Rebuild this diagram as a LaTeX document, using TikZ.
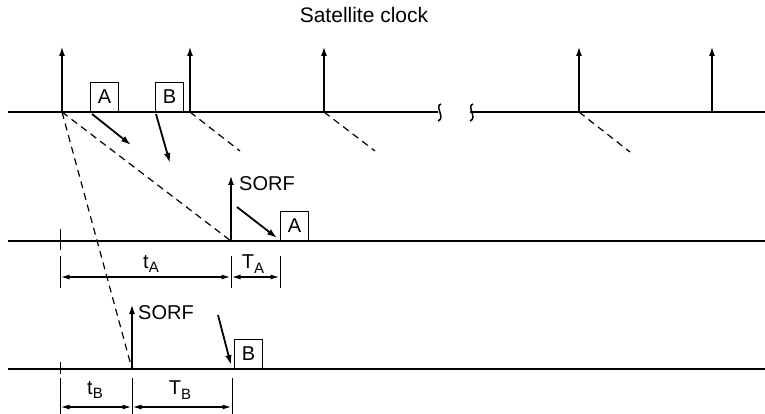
\documentclass[tikz,border=0pt]{standalone}
\usepackage{fontspec}
\setmainfont{Liberation Sans}
\usetikzlibrary{arrows.meta}
\newcommand\mysub[1]{\raisebox{-0.45ex}{\fontsize{15}{15}\selectfont #1}}
\begin{document}
\begin{tikzpicture}[x=1pt,y=-1pt,
  base/.style={line width=2.1pt},
  pulse/.style={line width=2.1pt,-{Latex[length=10pt,width=6pt]}},
  msg/.style={line width=1.8pt,-{Latex[length=10pt,width=6.5pt]}},
  prop/.style={line width=1.2pt,dash pattern=on 7pt off 5pt},
  dim/.style={line width=1.4pt,{Latex[length=9pt,width=5pt]}-{Latex[length=9pt,width=5pt]}},
  ext/.style={line width=1pt},
  lbl/.style={font=\fontsize{20}{22}\selectfont, inner sep=0pt},
  box/.style={draw,line width=1.1pt,minimum width=28pt,minimum height=29pt,inner sep=0pt,font=\fontsize{20}{22}\selectfont,anchor=south west}
]
\useasboundingbox (0,0) rectangle (765,414);
% title
\node[lbl,font=\fontsize{21}{23}\selectfont] (title) at (364,15) {Satellite clock};
% top line (satellite clock)
\coordinate (L1s) at (8,112);
\coordinate (B1) at (438,112);
\coordinate (B2) at (470,112);
\coordinate (L1e) at (765,112);
\draw[base] (L1s) -- (B1);
\draw[base] (B2) -- (L1e);
\draw[line width=1.5pt] (441,104) .. controls (434,106) and (446,118) .. (438,121);
\draw[line width=1.5pt] (473,104) .. controls (466,106) and (478,118) .. (470,121);
% pulses
\foreach \n/\x in {p1/62,p2/190,p3/324,p4/579,p5/712}{
  \coordinate (\n) at (\x,112);
  \coordinate (\n t) at (\x,46);
  \draw[pulse] (\n) -- (\n t);
}
% boxes on top line
\node[box] (bA) at (90,112) {A};
\node[box] (bB) at (155,112) {B};
\coordinate (aA1) at (92,114); \coordinate (aA2) at (131,145);
\coordinate (aB1) at (156,114); \coordinate (aB2) at (170,163);
\draw[msg] (aA1) -- (aA2);
\draw[msg] (aB1) -- (aB2);
% dashed propagation stubs
\coordinate (d2) at (240,151); \coordinate (d3) at (375,151); \coordinate (d4) at (630,152);
\draw[prop] (p2) -- (d2);
\draw[prop] (p3) -- (d3);
\draw[prop] (p4) -- (d4);
% second line (user A)
\coordinate (L2s) at (8,241);
\coordinate (L2e) at (765,241);
\draw[base] (L2s) -- (L2e);
\coordinate (sA) at (231,241);
\coordinate (sAt) at (231,175);
\draw[pulse] (sA) -- (sAt);
\node[lbl,anchor=west] (sorfA) at (239,184) {SORF};
\node[box] (bA2) at (280,241) {A};
\coordinate (mA1) at (237,207); \coordinate (mA2) at (277,238);
\draw[msg] (mA1) -- (mA2);
\draw[prop] (p1) -- (sA);
% ticks/extension lines line 2
\draw[ext] (60,229) -- (60,250);
\draw[ext] (60,256) -- (60,288);
\draw[ext] (231,256) -- (231,288);
\draw[ext] (280,256) -- (280,288);
\coordinate (tA1) at (60.5,277); \coordinate (tA2) at (230.5,277);
\coordinate (TA1) at (231.5,277); \coordinate (TA2) at (279.5,277);
\draw[dim] (tA1) -- (tA2);
\draw[dim] (TA1) -- (TA2);
\node[lbl] (ltA) at (151,264) {t\mysub{A}};
\node[lbl] (lTA) at (253,264) {T\mysub{A}};
% third line (user B)
\coordinate (L3s) at (8,369);
\coordinate (L3e) at (765,369);
\draw[base] (L3s) -- (L3e);
\coordinate (sB) at (132,369);
\coordinate (sBt) at (132,304);
\draw[pulse] (sB) -- (sBt);
\node[lbl,anchor=west] (sorfB) at (138,313) {SORF};
\node[box] (bB2) at (234,369) {B};
\coordinate (mB1) at (218,315); \coordinate (mB2) at (231,365);
\draw[msg] (mB1) -- (mB2);
\draw[prop] (p1) -- (sB);
% ticks/extension lines line 3
\draw[ext] (60,362) -- (60,374);
\draw[ext] (60,378) -- (60,414);
\draw[ext] (132,378) -- (132,414);
\draw[ext] (232,378) -- (232,414);
\coordinate (tB1) at (60.5,407); \coordinate (tB2) at (131.5,407);
\coordinate (TB1) at (132.5,407); \coordinate (TB2) at (231.5,407);
\draw[dim] (tB1) -- (tB2);
\draw[dim] (TB1) -- (TB2);
\node[lbl] (ltB) at (95,390) {t\mysub{B}};
\node[lbl] (lTB) at (180,390) {T\mysub{B}};
\end{tikzpicture}
\end{document}
